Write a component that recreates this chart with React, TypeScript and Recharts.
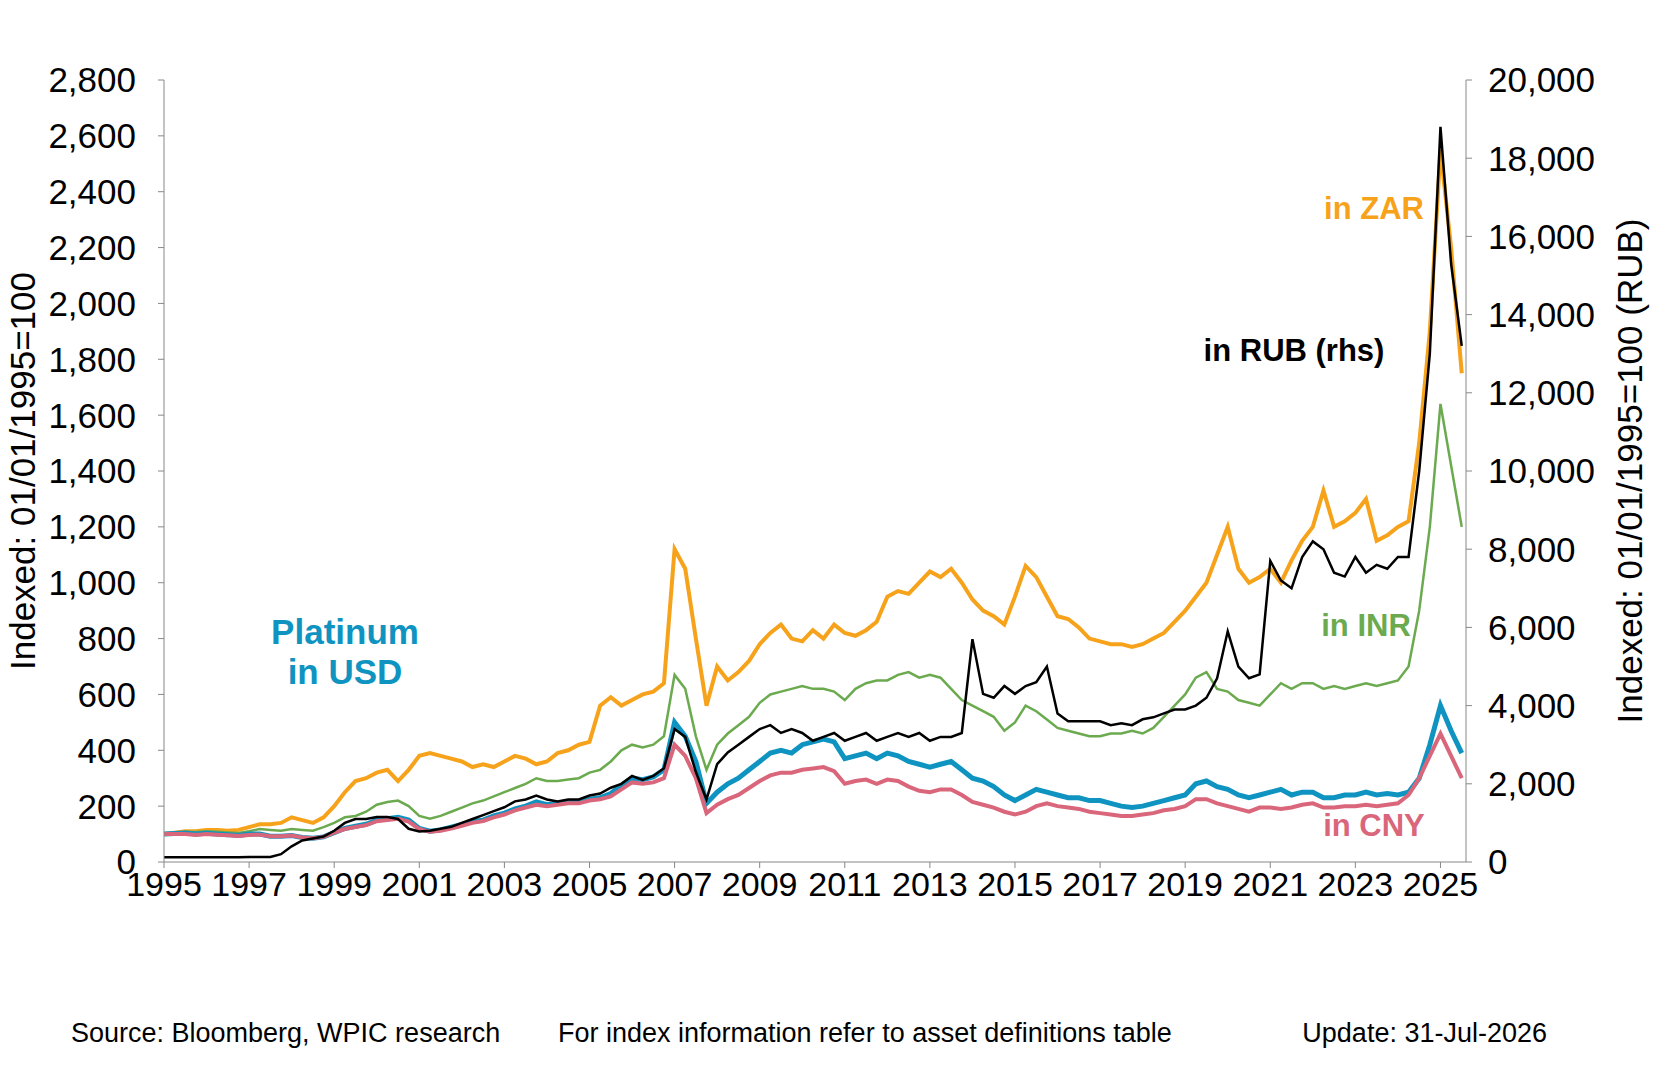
import { Line, LineChart, XAxis, YAxis } from "recharts";

const years = Array.from({ length: 123 }, (_, i) => 1995 + i / 4);

const usd = [
  100, 102, 104, 100, 103, 100, 98, 95, 100, 100, 92, 92, 95, 88, 85, 90,
  105, 120, 128, 135, 150, 155, 160, 150, 120, 110, 115, 125, 135, 145, 150, 165,
  175, 190, 200, 215, 205, 210, 215, 215, 225, 230, 245, 275, 300, 295, 305, 330,
  500, 450, 360, 210, 250, 280, 300, 330, 360, 390, 400, 390, 420, 430, 440, 430,
  370, 380, 390, 370, 390, 380, 360, 350, 340, 350, 360, 330, 300, 290, 270, 240,
  220, 240, 260, 250, 240, 230, 230, 220, 220, 210, 200, 195, 200, 210, 220, 230,
  240, 280, 290, 270, 260, 240, 230, 240, 250, 260, 240, 250, 250, 230, 230, 240,
  240, 250, 240, 245, 240, 250, 300, 420, 560, 470, 390,
];
const cny = [
  100, 100, 100, 97, 100, 98, 96, 93, 97, 98, 92, 92, 95, 88, 85, 90,
  105, 118, 125, 132, 146, 150, 155, 145, 118, 108, 112, 120, 130, 140, 147, 160,
  170, 185, 195, 205, 200, 205, 210, 210, 220, 225, 235, 260, 285, 280, 285, 300,
  420, 380, 300, 175, 205, 225, 240, 265, 290, 310, 320, 320, 330, 335, 340, 325,
  280, 290, 295, 280, 295, 290, 270, 255, 250, 260, 260, 240, 215, 205, 195, 180,
  170, 180, 200, 210, 200, 195, 190, 180, 175, 170, 165, 165, 170, 175, 185, 190,
  200, 225, 225, 210, 200, 190, 180, 195, 195, 190, 195, 205, 210, 195, 195, 200,
  200, 205, 200, 205, 210, 240, 300, 380, 460, 380, 300,
];
const inr = [
  100, 102, 108, 107, 110, 108, 106, 104, 110, 118, 115, 112, 118, 115, 112, 125,
  140, 160, 165, 180, 205, 215, 220, 200, 165, 155, 165, 180, 195, 210, 220, 235,
  250, 265, 280, 300, 290, 290, 295, 300, 320, 330, 360, 400, 420, 410, 420, 450,
  670, 620, 450, 330, 420, 460, 490, 520, 570, 600, 610, 620, 630, 620, 620, 610,
  580, 620, 640, 650, 650, 670, 680, 660, 670, 660, 620, 580, 560, 540, 520, 470,
  500, 560, 540, 510, 480, 470, 460, 450, 450, 460, 460, 470, 460, 480, 520, 560,
  600, 660, 680, 620, 610, 580, 570, 560, 600, 640, 620, 640, 640, 620, 630, 620,
  630, 640, 630, 640, 650, 700, 900, 1200, 1640, 1420, 1200,
];
const zar = [
  100, 105, 110, 110, 115, 115, 112, 115, 125, 135, 135, 140, 160, 150, 140, 160,
  200, 250, 290, 300, 320, 330, 290, 330, 380, 390, 380, 370, 360, 340, 350, 340,
  360, 380, 370, 350, 360, 390, 400, 420, 430, 560, 590, 560, 580, 600, 610, 640,
  1120, 1050, 800, 560, 700, 650, 680, 720, 780, 820, 850, 800, 790, 830, 800, 850,
  820, 810, 830, 860, 950, 970, 960, 1000, 1040, 1020, 1050, 1000, 940, 900, 880, 850,
  950, 1060, 1020, 950, 880, 870, 840, 800, 790, 780, 780, 770, 780, 800, 820, 860,
  900, 950, 1000, 1100, 1200, 1050, 1000, 1020, 1050, 1000, 1080, 1150, 1200, 1330, 1200, 1220,
  1250, 1300, 1150, 1170, 1200, 1220, 1500, 1900, 2550, 2200, 1750,
];
const rub = [
  120, 120, 120, 120, 120, 120, 120, 120, 125, 130, 130, 200, 400, 550, 600, 650,
  800, 1000, 1100, 1100, 1150, 1150, 1100, 850, 780, 800, 850, 900, 1000, 1100, 1200, 1300,
  1400, 1550, 1600, 1700, 1600, 1550, 1600, 1600, 1700, 1750, 1900, 2000, 2200, 2100, 2200, 2400,
  3400, 3200, 2300, 1600, 2500, 2800, 3000, 3200, 3400, 3500, 3300, 3400, 3300, 3100, 3200, 3300,
  3100, 3200, 3300, 3100, 3200, 3300, 3200, 3300, 3100, 3200, 3200, 3300, 5700, 4300, 4200, 4500,
  4300, 4500, 4600, 5000, 3800, 3600, 3600, 3600, 3600, 3500, 3550, 3500, 3650, 3700, 3800, 3900,
  3900, 4000, 4200, 4700, 5900, 5000, 4700, 4800, 7700, 7200, 7000, 7800, 8200, 8000, 7400, 7300,
  7800, 7400, 7600, 7500, 7800, 7800, 10000, 13000, 18800, 15300, 13200,
];

const xTicks = [1995, 1997, 1999, 2001, 2003, 2005, 2007, 2009, 2011, 2013, 2015, 2017, 2019, 2021, 2023, 2025];
const leftTicks = [0, 200, 400, 600, 800, 1000, 1200, 1400, 1600, 1800, 2000, 2200, 2400, 2600, 2800];
const rightTicks = [0, 2000, 4000, 6000, 8000, 10000, 12000, 14000, 16000, 18000, 20000];

const data = years.map((x, i) => ({ x, usd: usd[i], cny: cny[i], inr: inr[i], zar: zar[i], rub: rub[i] }));

const FONT = "'Liberation Sans', Arial, sans-serif";
const fmt = (v: number) => v.toLocaleString("en-US");
const tickStyle = { fontSize: 35, fill: "#000", fontFamily: FONT };

const note = (text: string, left: number, top: number, color: string) => (
  <div
    style={{
      position: "absolute", left, top, transform: "translate(-50%, -50%)", color,
      fontWeight: "bold", fontSize: 31, fontFamily: FONT, whiteSpace: "nowrap",
    }}
  >
    {text}
  </div>
);

const axisTitle = (text: string, left: number) => (
  <div style={{ position: "absolute", left, top: 471, transform: "translate(-50%, -50%) rotate(-90deg)", fontSize: 35, whiteSpace: "nowrap" }}>
    {text}
  </div>
);

export default function App() {
  return (
    <div style={{ position: "absolute", left: 0, top: 0, width: 1654, height: 1080, background: "#fff", fontFamily: FONT }}>
      <LineChart width={1654} height={1080} data={data} margin={{ top: 80, right: 0, bottom: 158, left: 0 }}>
        <XAxis
          dataKey="x" type="number" domain={[1995, 2025.6]} ticks={xTicks} interval={0}
          height={60} tick={{ ...tickStyle, fontSize: 34 }} stroke="#888" tickSize={6} tickMargin={4}
        />
        <YAxis
          yAxisId="l" domain={[0, 2800]} ticks={leftTicks} tickFormatter={fmt} width={164}
          tick={tickStyle} stroke="#888" tickSize={6} tickMargin={22} interval={0}
        />
        <YAxis
          yAxisId="r" orientation="right" domain={[0, 20000]} ticks={rightTicks} tickFormatter={fmt} width={188}
          tick={tickStyle} stroke="#888" tickSize={6} tickMargin={16} interval={0}
        />
        <Line yAxisId="l" dataKey="zar" stroke="#F7A21B" strokeWidth={4} dot={false} isAnimationActive={false} />
        <Line yAxisId="l" dataKey="inr" stroke="#6BAA4F" strokeWidth={2.5} dot={false} isAnimationActive={false} />
        <Line yAxisId="l" dataKey="usd" stroke="#0F94C1" strokeWidth={5} dot={false} isAnimationActive={false} />
        <Line yAxisId="l" dataKey="cny" stroke="#D9667A" strokeWidth={4} dot={false} isAnimationActive={false} />
        <Line yAxisId="r" dataKey="rub" stroke="#000" strokeWidth={2.5} dot={false} isAnimationActive={false} />
      </LineChart>

      {axisTitle("Indexed: 01/01/1995=100", 23)}
      {axisTitle("Indexed: 01/01/1995=100 (RUB)", 1630)}

      {note("in ZAR", 1374, 209, "#F7A21B")}
      {note("in RUB (rhs)", 1294, 351, "#000")}
      {note("in INR", 1366, 626, "#6BAA4F")}
      {note("in CNY", 1374, 826, "#D9667A")}
      <div style={{ position: "absolute", left: 345, top: 652, transform: "translate(-50%, -50%)", color: "#0F94C1", fontWeight: "bold", fontSize: 35, textAlign: "center", lineHeight: "40px" }}>
        Platinum<br />in USD
      </div>

      <div style={{ position: "absolute", left: 71, top: 1018, fontSize: 27 }}>Source: Bloomberg, WPIC research</div>
      <div style={{ position: "absolute", left: 558, top: 1018, fontSize: 27 }}>For index information refer to asset definitions table</div>
      <div style={{ position: "absolute", right: 107, top: 1018, fontSize: 27 }}>Update: 31-Jul-2026</div>
    </div>
  );
}
